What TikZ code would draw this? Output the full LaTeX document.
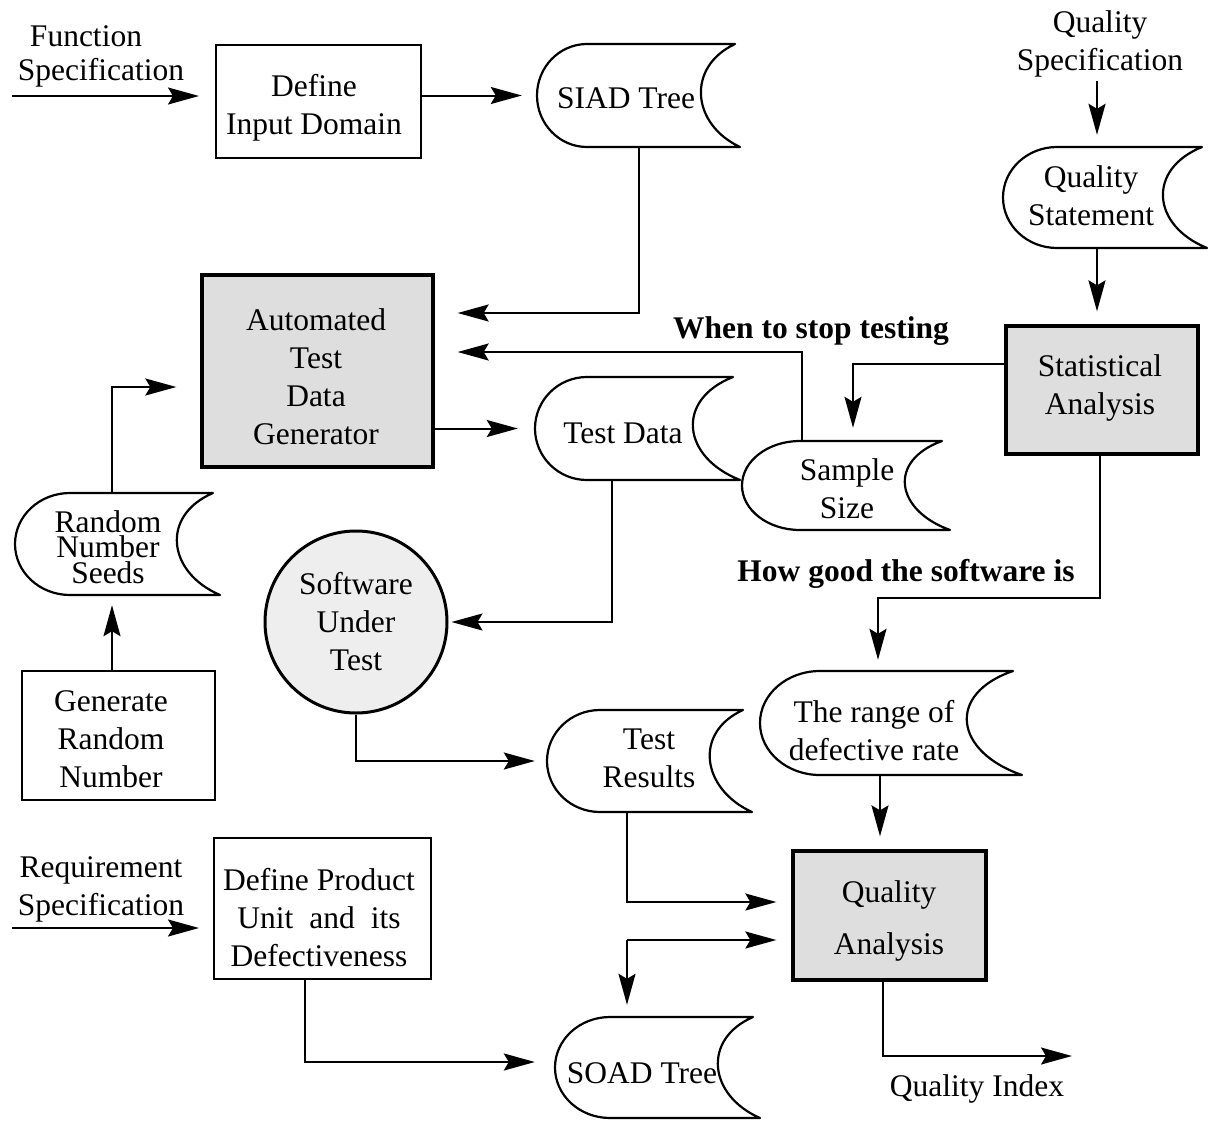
\documentclass[tikz,border=0pt]{standalone}
\usepackage{fontspec}
\setmainfont{Liberation Serif}
\usetikzlibrary{arrows.meta,fit}
\definecolor{boxgray}{HTML}{DEDEDE}
\definecolor{circgray}{HTML}{EEEEEE}
\tikzset{
  txt/.style={font=\fontsize{31.5}{38}\selectfont, inner sep=0pt, align=center},
  boldtxt/.style={font=\fontsize{31.5}{38}\selectfont\bfseries, inner sep=0pt},
  procbox/.style={draw, line width=2pt, inner sep=0pt},
  graybox/.style={draw, line width=3.3pt, fill=boxgray, inner sep=0pt},
  storeline/.style={line width=2.2pt, line join=round},
  arr/.style={draw, line width=2pt, -{Stealth[length=31pt,width=17pt,inset=5pt]}},
}
% #1 name, #2 left x, #3 top y, #4 top-right corner x, #5 bottom y, #6 bottom-right corner x, #7 left bulge radius, #8 concave leftmost x
\newcommand\storeshape[8]{%
  \pgfmathsetmacro\stA{#2+#7}%
  \pgfmathsetmacro\stB{(#5-#3)/2}%
  \pgfmathsetmacro\stK{((#4+#6)/2-#8)/0.75}%
  \pgfmathsetmacro\stM{0.222*(#5-#3)}%
  \coordinate (#1-nw) at (#2,#3);
  \coordinate (#1-se) at (#6,#5);
  \node[fit=(#1-nw)(#1-se), inner sep=0pt] (#1) {};
  \draw[storeline] (\stA,#3) -- (#4,#3)
     .. controls ({#4-\stK},{#3+\stM}) and ({#6-\stK},{#5-\stM}) .. (#6,#5)
     -- (\stA,#5) arc[start angle=270, end angle=90, x radius={#7*1pt}, y radius={\stB*1pt}] -- cycle;
}
\begin{document}
\begin{tikzpicture}[x=1pt,y=-1pt]
\fill[white] (0,0) rectangle (1208,1122);
\useasboundingbox (0,0) rectangle (1208,1122);

% ---- store shapes
\storeshape{siad}{537}{44}{735}{147}{740}{50}{701}
\storeshape{qst}{1003}{147}{1202}{248}{1207}{54}{1163}
\storeshape{td}{535}{377}{733}{480}{740}{52}{693}
\storeshape{ss}{742}{441}{942}{530}{950}{58}{905}
\storeshape{rns}{15}{493}{213}{595}{220}{55}{177}
\storeshape{rng}{760}{671}{1013}{775}{1022}{60}{967}
\storeshape{tr}{547}{710}{743}{812}{752}{53}{710}
\storeshape{soad}{555}{1017}{753}{1118}{760}{55}{718}

\node[txt] (siadt) at (626,98) {SIAD Tree};
\node[txt] (qstt) at (1091,196) {Quality\\Statement};
\node[txt] (tdt) at (623,433) {Test Data};
\node[txt] (sst) at (847,489) {Sample\\Size};
\node[txt, font=\fontsize{31.5}{25.5}\selectfont] (rnst) at (108,547) {Random\\Number\\Seeds};
\node[txt] (rngt) at (874,731) {The range of\\defective rate};
\node[txt] (trt) at (649,758) {Test\\Results};
\node[txt] (soadt) at (642,1073) {SOAD Tree};

% ---- process boxes
\node[procbox, minimum width=205pt, minimum height=113pt] (did) at (318.5,101.5) {};
\node[graybox, minimum width=231pt, minimum height=192pt] (atdg) at (317.5,371) {};
\node[graybox, minimum width=192pt, minimum height=128pt] (sa) at (1102,390) {};
\node[graybox, minimum width=193pt, minimum height=129pt] (qa) at (889.5,915.5) {};
\node[procbox, minimum width=193pt, minimum height=129pt] (grn) at (118.5,735.5) {};
\node[procbox, minimum width=217pt, minimum height=141pt] (dpu) at (322.5,908.5) {};
\node[txt, draw, line width=3pt, fill=circgray, circle, minimum size=182pt] (sut) at (356,622) {Software\\Under\\Test};

\node[txt] (didt) at (314,107.5) {Define\\Input Domain};
\node[txt] (atdgt) at (316,376.5) {Automated\\Test\\Data\\Generator};
\node[txt] (sat) at (1100,388) {Statistical\\Analysis};
\node[txt, font=\fontsize{31.5}{52}\selectfont] (qat) at (889,921) {Quality\\Analysis};
\node[txt] (grnt) at (111,739.5) {Generate\\Random\\Number};
\node[txt] (dput) at (319,917.5) {Define Product\\Unit\hspace{16pt}and\hspace{16pt}its\\Defectiveness};

% ---- free texts
\node[txt] (fs1) at (86,36) {Function};
\node[txt] (fs2) at (101,73) {Specification};
\node[txt] (qspec) at (1100,44) {Quality\\Specification};
\node[txt] (rspec) at (101,889) {Requirement\\Specification};
\node[boldtxt] (stop) at (811,331) {When to stop testing};
\node[boldtxt] (good) at (906,574) {How good the software is};
\node[txt] (qidx) at (977,1089) {Quality Index};

% ---- connectors
\coordinate (fsin) at (12,96);
\coordinate (rsin) at (12,928);
\coordinate (qsplit) at (627,940);
\coordinate (hg) at (878,598);
\coordinate (qiend) at (1072,1056);

\draw[arr, shorten >=16pt] (fsin) -- (fsin -| did.west);
\draw[arr, shorten >=15pt] (did.east |- siad.west) -- (siad.west);
\draw[arr, shorten >=23pt] (siad.south) |- ([yshift=58pt]atdg.east);
\draw[arr, shorten >=13pt] ([yshift=26pt]sa.west) -| ([xshift=7pt]ss.north);
\draw[arr, shorten >=23pt] ([xshift=-44pt]ss.north) |- ([yshift=19pt]atdg.east);
\draw[arr, shorten >=17pt] (atdg.east |- td.west) -- (td.west);
\draw[arr, shorten >=3pt] ([xshift=-25.5pt]td.south) |- (sut.east);
\draw[arr, shorten >=24pt] ([xshift=-5.5pt]rns.north) |- ([yshift=-16pt]atdg.west);
\draw[arr, shorten >=10pt] ([xshift=-6.5pt]grn.north) -- ([xshift=-5.5pt]rns.south);
\draw[arr, shorten >=12pt] (sut.south) |- (tr.west);
\draw[arr, shorten >=15pt] ([xshift=-22.5pt]tr.south) |- ([yshift=13.5pt]qa.west);
\draw[arr, shorten >=15pt] (qsplit) -- (qsplit -| qa.west);
\draw[arr, shorten >=12pt] (qsplit) -- (qsplit |- soad.north);
\draw[arr, shorten >=20pt] ([xshift=-17.5pt]dpu.south) |- ([yshift=5.5pt]soad.west);
\draw[arr, shorten >=14pt] (rsin) -- (rsin -| dpu.west);
\draw[arr, shorten <=4pt, shorten >=12pt] ([xshift=-8pt]qst.north |- qspec.south) -- ([xshift=-8pt]qst.north);
\draw[arr, shorten >=13pt] ([xshift=-8pt]qst.south) -- ([xshift=-8pt]qst.south |- sa.north);
\draw[arr, shorten >=11pt] ([xshift=-2pt]sa.south) |- (hg) -- (hg |- rng.north);
\draw[arr, shorten >=13pt] ([xshift=-11pt]rng.south) -- ([xshift=-11pt]rng.south |- qa.north);
\draw[arr] ([xshift=-6.5pt]qa.south) |- (qiend);
\end{tikzpicture}
\end{document}
